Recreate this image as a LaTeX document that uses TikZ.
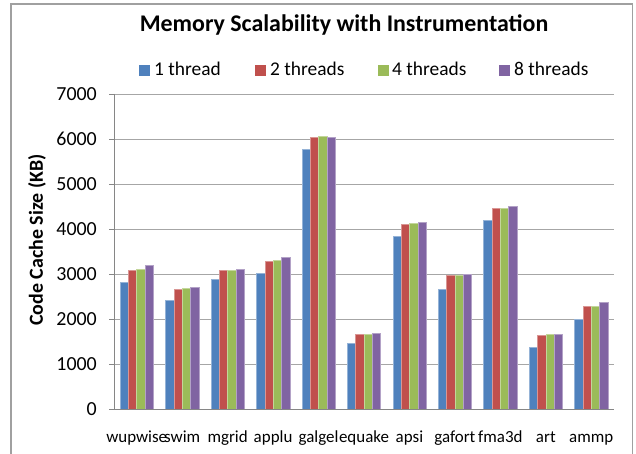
\documentclass[tikz,border=0pt]{standalone}
\usepackage{fontspec}
\setmainfont{Carlito}
\definecolor{serA}{HTML}{4F81BD}
\definecolor{serB}{HTML}{C0504D}
\definecolor{serC}{HTML}{9BBB59}
\definecolor{serD}{HTML}{8064A2}
\definecolor{gridgray}{HTML}{A6A6A6}
\definecolor{axisgray}{HTML}{868686}
\definecolor{framegray}{HTML}{A0A0A0}
\begin{document}
\begin{tikzpicture}[x=1bp,y=-1bp,
  gridline/.style={draw=gridgray,line width=0.9bp},
  axisline/.style={draw=axisgray,line width=0.9bp},
  barbox/.style={line width=0.5bp},
  ticklab/.style={anchor=east,inner sep=0pt,font=\fontsize{20}{20}\selectfont},
  catlab/.style={anchor=base,inner sep=0pt,font=\fontsize{17}{17}\selectfont},
  legtext/.style={anchor=base west,inner sep=0pt,font=\fontsize{19.5}{19.5}\selectfont},
  titletext/.style={anchor=base,inner sep=0pt,font=\fontsize{24}{24}\selectfont\bfseries},
  axistitle/.style={inner sep=0pt,rotate=90,font=\fontsize{20}{20}\selectfont\bfseries}]
\useasboundingbox (0,0) rectangle (636,454);
\fill[white] (0,0) rectangle (636,454);

% chart frame
\draw[draw=framegray,line width=1.3bp] (11,456) -- (11,4) -- (632.7,4) -- (632.7,456);

% title
\node[titletext] (title) at (344,32) {Memory Scalability with Instrumentation};

% legend
\foreach \col/\sx/\tx/\txt [count=\j] in {serA/138.5/154/1 thread, serB/254.5/270/2 threads, serC/377.5/392/4 threads, serD/498.5/514/8 threads}{
  \fill[\col] (\sx,65.5) rectangle ++(11.5,10.5);
  \node[legtext] (leg\j) at (\tx,76) {\txt};
}

% value gridlines, ticks and labels
\foreach \v in {1000,2000,...,7000}{
  \draw[gridline] (114,{409-\v*0.045}) -- (614,{409-\v*0.045});
}
\foreach \v in {0,1000,...,7000}{
  \draw[axisline] (109,{409-\v*0.045}) -- (114,{409-\v*0.045});
  \node[ticklab] (tick\v) at (97,{409-\v*0.045}) {\v};
}

% axis title
\node[axistitle] (ytitle) at (37,240) {Code Cache Size (KB)};

% bars: one group of four per benchmark
\foreach \name/\a/\b/\c/\d [count=\i from 0] in {
  wupwise/2820/3090/3100/3200,
  swim/2420/2660/2675/2700,
  mgrid/2890/3090/3090/3100,
  applu/3015/3275/3300/3370,
  galgel/5770/6040/6060/6050,
  equake/1470/1667/1667/1680,
  apsi/3850/4110/4125/4150,
  gafort/2667/2963/2970/2985,
  fma3d/4200/4460/4467/4500,
  art/1363/1637/1660/1660,
  ammp/1993/2289/2289/2370}{
  \pgfmathsetmacro\cx{114+45.4545*(\i+0.5)}
  \foreach \v/\col [count=\k from 0] in {\a/serA,\b/serB,\c/serC,\d/serD}{
    \pgfmathsetmacro\xl{\cx-16.667+8.333*\k}
    \filldraw[barbox,fill=\col,draw=\col!60!white] (\xl,409) rectangle ({\xl+8.333},{409-\v*0.045});
  }
  \node[catlab] (cat\i) at (\cx,442) {\name};
}

% axes
\draw[axisline] (114,94) -- (114,409);
\draw[axisline] (109,409) -- (614,409);
\end{tikzpicture}
\end{document}
